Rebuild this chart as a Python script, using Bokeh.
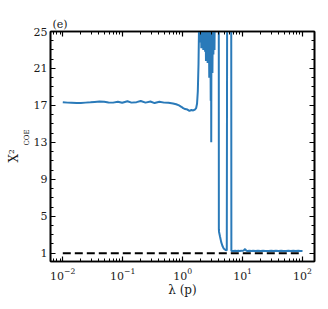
from bokeh.plotting import figure
from bokeh.models import (Range1d, FixedTicker, LinearAxis, LogAxis, Title,
                          ColumnDataSource, CustomJSTickFormatter)
from bokeh.embed import file_html
from bokeh.resources import INLINE

# ---- data -------------------------------------------------------------
lam_a = [0.010, 0.012, 0.014, 0.017, 0.020, 0.024, 0.029, 0.034, 0.041, 0.049,
         0.058, 0.069, 0.083, 0.098, 0.12, 0.14, 0.17, 0.20, 0.24, 0.29,
         0.34, 0.41, 0.49, 0.58, 0.69, 0.78, 0.87, 0.95, 1.02, 1.10,
         1.20, 1.30, 1.40, 1.50, 1.60, 1.68, 1.74, 1.79, 1.84, 1.88]
chi_a = [17.35, 17.30, 17.28, 17.25, 17.27, 17.30, 17.33, 17.38, 17.42, 17.40,
         17.32, 17.30, 17.40, 17.28, 17.45, 17.30, 17.35, 17.48, 17.30, 17.42,
         17.25, 17.40, 17.30, 17.28, 17.20, 17.12, 17.00, 16.85, 16.70, 16.60,
         16.55, 16.40, 16.50, 16.45, 16.55, 16.70, 17.20, 18.50, 21.50, 26.00]

lam_b = [1.92, 1.97, 2.01, 2.05, 2.09, 2.13, 2.17, 2.21, 2.25, 2.29,
         2.33, 2.37, 2.41, 2.45, 2.49, 2.53, 2.57, 2.61, 2.65, 2.70,
         2.74, 2.78, 2.82, 2.86, 2.90, 2.94, 2.98, 3.00, 3.03, 3.06,
         3.10, 3.14, 3.20, 3.26, 3.32, 3.40, 3.50, 3.70, 3.90, 4.00]
chi_b = [30.0, 23.8, 28.0, 23.2, 27.0, 23.5, 29.0, 23.0, 26.0, 23.2,
         28.0, 22.8, 27.0, 21.8, 26.0, 22.0, 29.0, 21.6, 27.0, 21.8,
         26.0, 20.0, 28.0, 21.5, 26.0, 17.5, 27.0, 13.0, 28.0, 21.0,
         27.0, 20.5, 28.0, 22.5, 30.0, 23.0, 35.0, 40.0, 40.0, 40.0]

lam_c = [4.02, 4.05, 4.20, 4.40, 4.60, 4.80, 5.00, 5.20, 5.45, 5.56,
         6.00, 6.45, 6.50, 7.0, 7.5, 8.0, 8.5, 9.0, 9.5, 10.0,
         10.5, 11.0, 11.5, 12.0, 13.0, 14.0, 15.0, 16.5, 18.0, 20.0,
         22.0, 24.0, 27.0, 30.0, 33.0, 36.0, 40.0, 44.0, 48.0, 53.0,
         58.0, 64.0, 70.0, 77.0, 85.0, 92.0, 100.0]
chi_c = [3.60, 3.30, 2.80, 2.20, 1.80, 1.55, 1.42, 1.34, 1.30, 40.0,
         40.0, 40.0, 1.25, 1.24, 1.27, 1.23, 1.26, 1.24, 1.27, 1.25,
         1.30, 1.45, 1.28, 1.24, 1.27, 1.23, 1.26, 1.24, 1.27, 1.23,
         1.26, 1.24, 1.25, 1.27, 1.23, 1.26, 1.24, 1.27, 1.23, 1.25,
         1.26, 1.24, 1.27, 1.23, 1.26, 1.25, 1.24]

lam = lam_a + lam_b + lam_c
chi = chi_a + chi_b + chi_c

ref_x = [0.01, 100.0]
ref_y = [1.0, 1.0]

y_ticks = [1, 5, 9, 13, 17, 21, 25]
x_ticks = [0.01, 0.1, 1, 10, 100]

# ---- figure -----------------------------------------------------------
FONT = "DejaVu Serif"
TXT = "#1a1a1a"
lo, hi = 10 ** -2.205, 10 ** 2.2
p = figure(width=328, height=309, x_axis_type="log",
           x_range=Range1d(lo, hi), y_range=Range1d(0.1, 25),
           output_backend="svg", toolbar_location=None,
           min_border_left=50, min_border_right=14,
           min_border_top=31, min_border_bottom=48)
p.xgrid.visible = False
p.ygrid.visible = False
p.outline_line_color = "black"
p.outline_line_width = 1.6
p.background_fill_color = "white"
p.border_fill_color = "white"

minor_x = []
for d in range(-3, 3):
    for k in range(2, 10):
        minor_x.append(k * 10 ** d)

def style(ax, labels=True):
    ax.axis_line_color = "black"
    ax.axis_line_width = 1.6
    ax.major_tick_in = 5
    ax.major_tick_out = 0
    ax.minor_tick_in = 3
    ax.minor_tick_out = 0
    ax.major_tick_line_color = "black"
    ax.minor_tick_line_color = "black"
    ax.major_tick_line_width = 1.2
    ax.minor_tick_line_width = 1
    ax.major_label_text_font = FONT
    ax.major_label_text_font_size = "11px"
    ax.major_label_text_color = TXT
    ax.major_label_standoff = 3
    if not labels:
        ax.formatter = CustomJSTickFormatter(code="return ''")
        ax.major_label_text_color = None
        ax.major_label_standoff = 0
        ax.major_label_text_font_size = "1px"

xa = p.xaxis[0]
xa.ticker = FixedTicker(ticks=x_ticks, minor_ticks=minor_x)
style(xa)
xa.major_label_standoff = 6
xa.axis_label = "λ (p)"
xa.axis_label_text_font = FONT
xa.axis_label_text_font_style = "normal"
xa.axis_label_text_font_size = "12px"
xa.axis_label_standoff = 0
xa.axis_label_text_color = TXT

ya = p.yaxis[0]
ya.ticker = FixedTicker(ticks=y_ticks, minor_ticks=list(range(0, 26)))
style(ya)

top = LogAxis(ticker=FixedTicker(ticks=x_ticks, minor_ticks=minor_x))
style(top, labels=False)
p.add_layout(top, "above")
right = LinearAxis(ticker=FixedTicker(ticks=y_ticks, minor_ticks=list(range(0, 26))))
style(right, labels=False)
p.add_layout(right, "right")

src = ColumnDataSource(dict(x=lam, y=chi))
p.line("x", "y", source=src, line_color="#2a7ab9", line_width=2)
p.line(ref_x, ref_y, line_color="black", line_width=2, line_dash="8 4")

# panel letter
p.title = Title(text="(e)", align="left", offset=2, text_font=FONT,
                text_font_size="11px", text_font_style="normal",
                text_color=TXT, standoff=2)

# y label X^2_COE, built from two rotated titles (subscript nearest the frame)
p.add_layout(Title(text="COE", align="left", offset=116, text_font=FONT,
                   text_font_size="7px", text_font_style="normal",
                   text_color=TXT, standoff=0), "left")
p.add_layout(Title(text="X²", align="left", offset=99, text_font=FONT,
                   text_font_size="12px", text_font_style="normal",
                   text_color=TXT, standoff=0), "left")

open("out.html", "w").write(file_html(p, INLINE))
